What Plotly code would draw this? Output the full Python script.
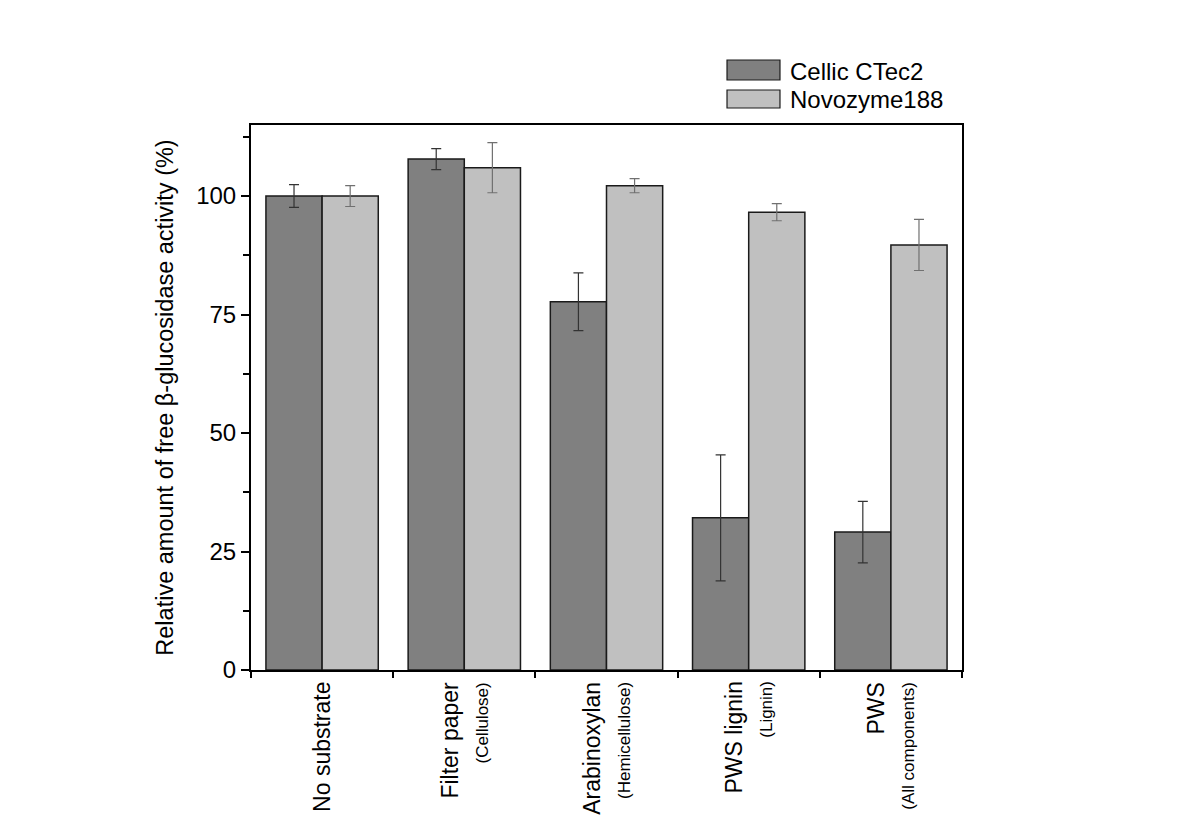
import plotly.graph_objects as go

categories = ["No substrate", "Filter paper", "Arabinoxylan", "PWS lignin", "PWS"]
subtitles = ["", "(Cellulose)", "(Hemicellulose)", "(Lignin)", "(All components)"]
series_names = ["Cellic CTec2", "Novozyme188"]
ctec2 = [100.0, 107.8, 77.7, 32.1, 29.1]
ctec2_err = [2.4, 2.2, 6.1, 13.3, 6.5]
novo = [100.0, 106.0, 102.2, 96.6, 89.7]
novo_err = [2.2, 5.3, 1.5, 1.8, 5.4]
y_ticks = [0, 25, 50, 75, 100]

FONT = "Liberation Sans, Arial, sans-serif"
x_pos = list(range(1, len(categories) + 1))

fig = go.Figure()
fig.add_trace(go.Bar(
    x=x_pos, y=ctec2, name=series_names[0],
    marker=dict(color="#808080", line=dict(color="#1a1a1a", width=1.5)),
    error_y=dict(type="data", array=ctec2_err, visible=True, color="#333333", thickness=1.2, width=5),
    showlegend=False,
))
fig.add_trace(go.Bar(
    x=x_pos, y=novo, name=series_names[1],
    marker=dict(color="#c0c0c0", line=dict(color="#1a1a1a", width=1.5)),
    error_y=dict(type="data", array=novo_err, visible=True, color="#707070", thickness=1.2, width=5),
    showlegend=False,
))

# category labels
for xc, main, sub in zip(x_pos, categories, subtitles):
    txt = main if not sub else f"{main}<br><span style='font-size:17px'>{sub}</span>"
    fig.add_annotation(
        x=xc, xref="x", y=-0.018, yref="paper", text=txt, textangle=-90,
        showarrow=False, xanchor="center", yanchor="top", align="right",
        font=dict(family=FONT, size=23, color="black"),
    )

# custom legend
legend_colors = ["#808080", "#c0c0c0"]
legend_rows = [(1.1193, 1.0826, 1.099), (1.0642, 1.0312, 1.0477)]
for name, col, (y1, y0, yt) in zip(series_names, legend_colors, legend_rows):
    fig.add_shape(type="rect", xref="paper", yref="paper", x0=0.6695, x1=0.744, y0=y0, y1=y1,
                  fillcolor=col, line=dict(color="#1a1a1a", width=1.2))
    fig.add_annotation(x=0.7553, y=yt, xref="paper", yref="paper", text=name,
                       showarrow=False, xanchor="left", yanchor="middle",
                       font=dict(family=FONT, size=24, color="black"))

fig.update_layout(
    width=1200, height=836,
    margin=dict(l=243, r=246, t=117, b=174),
    plot_bgcolor="white", paper_bgcolor="white",
    barmode="group", bargap=0.21, bargroupgap=0,
    font=dict(family=FONT, size=24, color="black"),
    xaxis=dict(
        range=[0.5, 5.5], tickvals=[0.5, 1.5, 2.5, 3.5, 4.5, 5.5], ticktext=[""] * 6,
        ticks="outside", ticklen=6, tickwidth=1.5, tickcolor="black",
        showline=True, linecolor="black", linewidth=2, mirror=True,
        showgrid=False, zeroline=False,
    ),
    yaxis=dict(
        range=[0, 115], tickvals=y_ticks, ticks="outside", ticklen=8, tickwidth=1.5,
        tickcolor="black", showline=True, linecolor="black", linewidth=2, mirror=True,
        showgrid=False, zeroline=False,
        minor=dict(dtick=12.5, tick0=0, ticks="outside", ticklen=6, tickwidth=1.5, tickcolor="black", showgrid=False),
        title=dict(text="Relative amount of free β-glucosidase activity (%)", font=dict(size=23.5), standoff=16),
        tickfont=dict(size=24),
    ),
)

fig.write_html("out.html")
